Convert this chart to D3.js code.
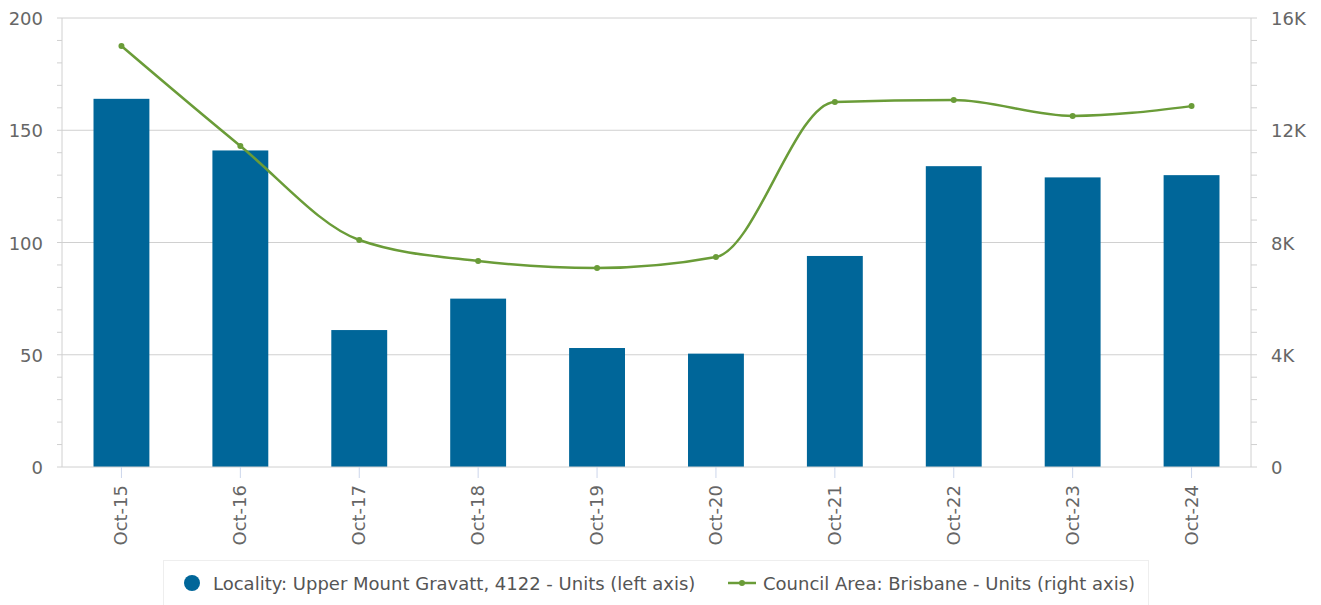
<!DOCTYPE html>
<html><head><meta charset="utf-8">
<script src="https://cdn.jsdelivr.net/npm/d3@7"></script>
<style>body{margin:0;background:#fff;font-family:"DejaVu Sans",sans-serif;}</style>
</head><body><svg id="c" width="1321" height="605"></svg>
<script>
const categories = ["Oct-15","Oct-16","Oct-17","Oct-18","Oct-19","Oct-20","Oct-21","Oct-22","Oct-23","Oct-24"];
const localityUnits = [164,141,61,75,53,50.5,94,134,129,130];
const councilUnits = [15000,11440,8090,7340,7090,7480,13010,13080,12510,12860];
const leftTicks = [0,50,100,150,200];
const rightTicks = [0,4000,8000,12000,16000];
const rightTickLabels = ["0","4K","8K","12K","16K"];
const seriesNames = ["Locality: Upper Mount Gravatt, 4122 - Units (left axis)","Council Area: Brisbane - Units (right axis)"];

const svg = d3.select("#c");
const L=62, R=1251, T=18, B=467;
const x = d3.scaleBand().domain(categories).range([L,R]).padding(0);
const yL = d3.scaleLinear().domain([0,200]).range([B,T]);
const yR = d3.scaleLinear().domain([0,16000]).range([B,T]);
const barColor="#006699", lineColor="#6a9c38", gridColor="#d0d0d0", textColor="#666";
const fs = 18;

// gridlines
svg.append("g").selectAll("line").data(leftTicks.slice(1)).join("line")
  .attr("x1",L).attr("x2",R).attr("y1",d=>yL(d)).attr("y2",d=>yL(d))
  .attr("stroke",gridColor).attr("stroke-width",1);

// left axis
const minorL = d3.range(0,201,10);
const gL = svg.append("g");
gL.append("line").attr("x1",L).attr("x2",L).attr("y1",T).attr("y2",B).attr("stroke",gridColor);
gL.selectAll("line.m").data(minorL).join("line").attr("class","m")
  .attr("x1",L-5).attr("x2",L).attr("y1",d=>yL(d)).attr("y2",d=>yL(d)).attr("stroke",gridColor);
gL.selectAll("text").data(leftTicks).join("text")
  .attr("x",43).attr("y",d=>yL(d)+7).attr("text-anchor","end")
  .attr("fill",textColor).attr("font-size",fs).text(d=>d);

// right axis
const minorR = d3.range(0,16001,800);
const gR = svg.append("g");
gR.append("line").attr("x1",R).attr("x2",R).attr("y1",T).attr("y2",B).attr("stroke",gridColor);
gR.selectAll("line.m").data(minorR).join("line").attr("class","m")
  .attr("x1",R).attr("x2",R+6).attr("y1",d=>yR(d)).attr("y2",d=>yR(d)).attr("stroke",gridColor);
gR.selectAll("text").data(rightTicks).join("text")
  .attr("x",1271).attr("y",d=>yR(d)+7).attr("text-anchor","start")
  .attr("fill",textColor).attr("font-size",fs).text((d,i)=>rightTickLabels[i]);

// bars
const bw = x.bandwidth();
svg.append("g").selectAll("rect").data(categories).join("rect")
  .attr("x",c=>x(c)+bw*0.265).attr("width",bw*0.47)
  .attr("y",(c,i)=>yL(localityUnits[i])).attr("height",(c,i)=>B-yL(localityUnits[i]))
  .attr("fill",barColor);

// x axis
svg.append("line").attr("x1",L).attr("x2",R).attr("y1",B).attr("y2",B).attr("stroke",gridColor);
svg.append("g").selectAll("line").data(categories).join("line")
  .attr("x1",c=>x(c)+bw/2).attr("x2",c=>x(c)+bw/2).attr("y1",B).attr("y2",B+11)
  .attr("stroke","#ccd6eb");
svg.append("g").selectAll("text").data(categories).join("text")
  .attr("transform",c=>`translate(${x(c)+bw/2+6},${B+18}) rotate(-90)`)
  .attr("text-anchor","end").attr("fill",textColor).attr("font-size",fs).text(c=>c);

// line
const line = d3.line().x((d,i)=>x(categories[i])+bw/2).y(d=>yR(d)).curve(d3.curveMonotoneX);
svg.append("path").datum(councilUnits).attr("d",line).attr("fill","none")
  .attr("stroke",lineColor).attr("stroke-width",2.5);
svg.append("g").selectAll("circle").data(councilUnits).join("circle")
  .attr("cx",(d,i)=>x(categories[i])+bw/2).attr("cy",d=>yR(d)).attr("r",3).attr("fill",lineColor);

// legend
const lg = svg.append("g");
lg.append("rect").attr("x",163.5).attr("y",560.5).attr("width",985).attr("height",50)
  .attr("fill","#fff").attr("stroke","#eeeeee");
lg.append("circle").attr("cx",192).attr("cy",583).attr("r",8).attr("fill",barColor);
lg.append("text").attr("x",213).attr("y",590).attr("fill","#555").attr("font-size",fs).text(seriesNames[0]);
lg.append("line").attr("x1",728).attr("x2",756).attr("y1",583).attr("y2",583).attr("stroke",lineColor).attr("stroke-width",2.5);
lg.append("circle").attr("cx",742).attr("cy",583).attr("r",3).attr("fill",lineColor);
lg.append("text").attr("x",763).attr("y",590).attr("fill","#555").attr("font-size",fs).text(seriesNames[1]);
</script></body></html>
